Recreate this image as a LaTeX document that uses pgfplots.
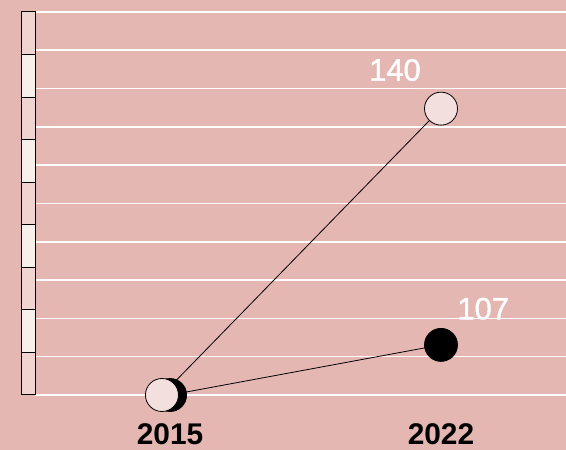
\documentclass[border=0pt]{standalone}
\usepackage{pgfplots}
\pgfplotsset{compat=1.18}
\usepackage{fontspec}
\setmainfont{Liberation Sans}
\newfontfamily\medfont[FakeBold=1.2]{Liberation Sans}

\definecolor{bgpink}{RGB}{229,183,178}
\definecolor{dotpink}{RGB}{243,223,222}
\definecolor{segpink}{RGB}{240,212,210}
\definecolor{segwhite}{RGB}{247,239,234}

\begin{document}
\begin{tikzpicture}[x=1bp,y=1bp, seg/.style={draw=black, line width=1bp}]
\fill[bgpink] (0,0) rectangle (566,450);
\begin{axis}[
    at={(35bp,55bp)},
    anchor=south west,
    scale only axis,
    width=531bp,
    height=383bp,
    xmin=2011.51, xmax=2025.23,
    ymin=100, ymax=153.5,
    clip=false,
    axis line style={draw=none},
    tick style={draw=none},
    xtick={2015,2022},
    xticklabels={2015,2022},
    xticklabel style={font=\fontsize{30}{32}\selectfont\bfseries, yshift=-25bp},
    ytick={100,105.35,110.7,116.05,121.4,126.75,132.1,137.45,142.8,148.15,153.5},
    yticklabels={},
    ymajorgrids,
    grid style={white, line width=1.6bp},
]
% connecting lines
\addplot[black, line width=0.8bp] coordinates {(2014.79,100) (2022,140)};
\addplot[black, line width=0.8bp] coordinates {(2015,100) (2022,107)};
% markers
\addplot[only marks, mark=*, mark size=16.5bp, mark options={fill=black, draw=black, line width=0.8bp}]
    coordinates {(2015,100) (2022,107)};
\addplot[only marks, mark=*, mark size=16.5bp, mark options={fill=dotpink, draw=black, line width=0.8bp}]
    coordinates {(2014.79,100) (2022,140)};
% value labels
\node[white, font=\medfont\fontsize{31}{32}\selectfont] at (axis cs:2020.81,145.4) {140};
\node[white, font=\medfont\fontsize{31}{32}\selectfont] at (axis cs:2023.09,112.05) {107};
% segmented bar on the left
\filldraw[seg, fill=segpink]  (rel axis cs:-0.0245,0.0000) rectangle (rel axis cs:0,0.1111);
\filldraw[seg, fill=segwhite] (rel axis cs:-0.0245,0.1111) rectangle (rel axis cs:0,0.2222);
\filldraw[seg, fill=segpink]  (rel axis cs:-0.0245,0.2222) rectangle (rel axis cs:0,0.3333);
\filldraw[seg, fill=segwhite] (rel axis cs:-0.0245,0.3333) rectangle (rel axis cs:0,0.4444);
\filldraw[seg, fill=segpink]  (rel axis cs:-0.0245,0.4444) rectangle (rel axis cs:0,0.5556);
\filldraw[seg, fill=segwhite] (rel axis cs:-0.0245,0.5556) rectangle (rel axis cs:0,0.6667);
\filldraw[seg, fill=segpink]  (rel axis cs:-0.0245,0.6667) rectangle (rel axis cs:0,0.7778);
\filldraw[seg, fill=segwhite] (rel axis cs:-0.0245,0.7778) rectangle (rel axis cs:0,0.8889);
\filldraw[seg, fill=segpink]  (rel axis cs:-0.0245,0.8889) rectangle (rel axis cs:0,1.0000);
\end{axis}
\pgfresetboundingbox
\useasboundingbox (0,0) rectangle (566,450);
\end{tikzpicture}
\end{document}
